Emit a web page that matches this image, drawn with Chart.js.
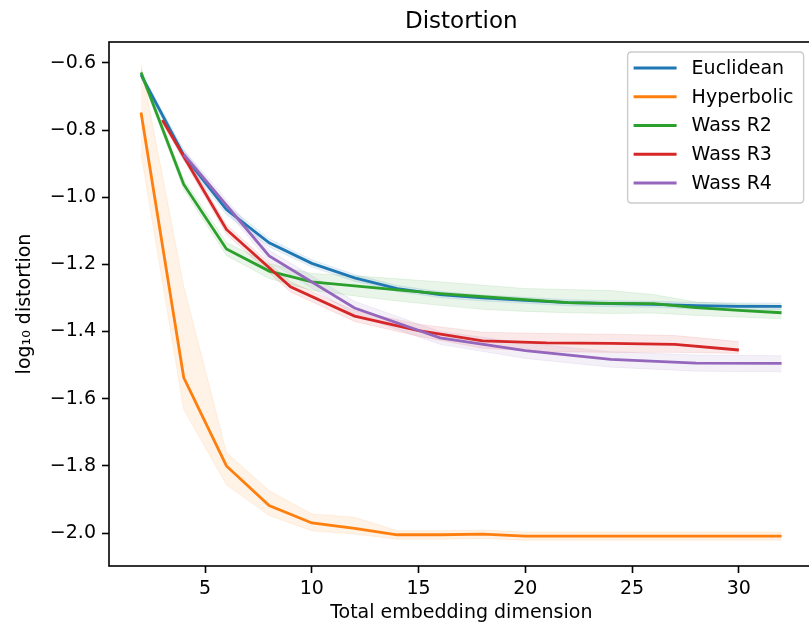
<!DOCTYPE html>
<html><head><meta charset="utf-8">
<script src="https://cdn.jsdelivr.net/npm/chart.js@4/dist/chart.umd.min.js"></script>
<style>
html,body{margin:0;padding:0;background:#fff;overflow:hidden;width:809px;height:629px}
#wrap{position:absolute;left:0;top:0;width:830px;height:629px}
</style>
</head><body><div id="wrap"><canvas id="c" width="830" height="629"></canvas></div>
<script>
// ---- data ----
const xEven = [2,4,6,8,10,12,14,16,18,20,22,24,26,28,30,32];
const xR3 = [3,6,9,12,15,18,21,24,27,30];
const xR4 = [4,8,12,16,20,24,28,32];

const euclMean  = [-0.636,-0.875,-1.037,-1.136,-1.197,-1.240,-1.272,-1.290,-1.300,-1.307,-1.314,-1.317,-1.319,-1.323,-1.325,-1.325];
const euclUpper = [-0.626,-0.860,-1.022,-1.124,-1.186,-1.230,-1.263,-1.281,-1.291,-1.298,-1.305,-1.308,-1.310,-1.313,-1.315,-1.315];
const euclLower = [-0.646,-0.890,-1.052,-1.148,-1.208,-1.250,-1.281,-1.299,-1.309,-1.316,-1.323,-1.326,-1.328,-1.333,-1.335,-1.335];

const hypMean  = [-0.748,-1.537,-1.800,-1.918,-1.970,-1.986,-2.005,-2.005,-2.003,-2.009,-2.009,-2.009,-2.009,-2.009,-2.009,-2.009];
const hypUpper = [-0.606,-1.266,-1.760,-1.874,-1.943,-1.953,-1.993,-1.993,-1.991,-1.997,-1.997,-1.997,-1.997,-1.997,-1.997,-1.997];
const hypLower = [-0.870,-1.632,-1.856,-1.948,-1.993,-2.003,-2.018,-2.018,-2.016,-2.021,-2.021,-2.021,-2.021,-2.021,-2.021,-2.021];

const r2Mean  = [-0.629,-0.962,-1.154,-1.220,-1.252,-1.264,-1.276,-1.287,-1.296,-1.305,-1.314,-1.316,-1.317,-1.329,-1.337,-1.344];
const r2Upper = [-0.619,-0.947,-1.134,-1.198,-1.227,-1.234,-1.243,-1.252,-1.262,-1.272,-1.275,-1.278,-1.290,-1.312,-1.318,-1.322];
const r2Lower = [-0.639,-0.977,-1.174,-1.242,-1.277,-1.294,-1.309,-1.322,-1.334,-1.340,-1.344,-1.346,-1.345,-1.352,-1.357,-1.362];

const r3Mean  = [-0.770,-1.096,-1.267,-1.354,-1.397,-1.428,-1.434,-1.435,-1.438,-1.455];
const r3Upper = [-0.760,-1.082,-1.252,-1.338,-1.378,-1.402,-1.406,-1.408,-1.412,-1.430];
const r3Lower = [-0.780,-1.110,-1.282,-1.370,-1.414,-1.450,-1.460,-1.462,-1.462,-1.465];

const r4Mean  = [-0.873,-1.175,-1.330,-1.419,-1.457,-1.483,-1.494,-1.495];
const r4Upper = [-0.858,-1.158,-1.310,-1.400,-1.434,-1.460,-1.470,-1.472];
const r4Lower = [-0.888,-1.192,-1.350,-1.438,-1.480,-1.506,-1.518,-1.520];

const seriesNames = ['Euclidean','Hyperbolic','Wass R2','Wass R3','Wass R4'];
const xTicks = [5,10,15,20,25,30];
const xTickLabels = ['5','10','15','20','25','30'];
const yTicks = [-2.0,-1.8,-1.6,-1.4,-1.2,-1.0,-0.8,-0.6];
const yTickLabels = ['\u22122.0','\u22121.8','\u22121.6','\u22121.4','\u22121.2','\u22121.0','\u22120.8','\u22120.6'];

// ---- build ----
const colors = ['31,119,180','255,127,14','44,160,44','214,39,40','148,103,189'];
const series = [
  {x:xEven, m:euclMean, u:euclUpper, l:euclLower},
  {x:xEven, m:hypMean, u:hypUpper, l:hypLower},
  {x:xEven, m:r2Mean, u:r2Upper, l:r2Lower},
  {x:xR3, m:r3Mean, u:r3Upper, l:r3Lower},
  {x:xR4, m:r4Mean, u:r4Upper, l:r4Lower}
];
const pts = (xs, ys) => xs.map((x,i)=>({x:x, y:ys[i]}));
const datasets = [];
series.forEach((s,k)=>{
  const c = colors[k];
  datasets.push({label:'', data:pts(s.x,s.u), borderColor:`rgba(${c},0.1)`, borderWidth:1, pointRadius:0, fill:false, order:20});
  datasets.push({label:'', data:pts(s.x,s.l), borderColor:`rgba(${c},0.1)`, borderWidth:1, pointRadius:0, fill:'-1', backgroundColor:`rgba(${c},0.1)`, order:20});
});
series.forEach((s,k)=>{
  datasets.push({label:seriesNames[k], isMain:true, data:pts(s.x,s.m), borderColor:`rgb(${colors[k]})`, borderWidth:2.8, pointRadius:0, fill:false, order:10-k});
});

const FONT = 'DejaVu Sans';
Chart.defaults.font.family = FONT;
Chart.defaults.color = '#000';

const framePlugin = {
  id:'frame',
  afterDatasetsDraw(chart){
    const {ctx, chartArea:a} = chart;
    ctx.save();
    ctx.strokeStyle = '#000'; ctx.lineWidth = 1.6;
    ctx.strokeRect(a.left, a.top, a.right-a.left, a.bottom-a.top);
    ctx.restore();
  }
};
const legendPlugin = {
  id:'boxLegend',
  afterDraw(chart){
    const {ctx, chartArea:a} = chart;
    const items = chart.data.datasets.filter(d=>d.isMain);
    const w = 176, h = 151;
    const x0 = a.right - 10 - w, y0 = a.top + 10, r = 4;
    ctx.save();
    ctx.beginPath();
    ctx.moveTo(x0+r,y0); ctx.lineTo(x0+w-r,y0); ctx.quadraticCurveTo(x0+w,y0,x0+w,y0+r);
    ctx.lineTo(x0+w,y0+h-r); ctx.quadraticCurveTo(x0+w,y0+h,x0+w-r,y0+h);
    ctx.lineTo(x0+r,y0+h); ctx.quadraticCurveTo(x0,y0+h,x0,y0+h-r);
    ctx.lineTo(x0,y0+r); ctx.quadraticCurveTo(x0,y0,x0+r,y0); ctx.closePath();
    ctx.fillStyle = 'rgba(255,255,255,0.8)'; ctx.fill();
    ctx.strokeStyle = '#cccccc'; ctx.lineWidth = 1.4; ctx.stroke();
    ctx.font = `19px "${FONT}"`; ctx.textBaseline = 'middle'; ctx.textAlign = 'left'; ctx.fillStyle = '#000';
    items.forEach((d,i)=>{
      const y = y0 + 16 + i*28.75;
      ctx.beginPath(); ctx.moveTo(x0+6,y); ctx.lineTo(x0+49,y);
      ctx.strokeStyle = d.borderColor; ctx.lineWidth = 2.8; ctx.stroke();
      ctx.fillText(d.label, x0+64, y+1);
    });
    ctx.restore();
  }
};

new Chart(document.getElementById('c'), {
  type:'line',
  data:{datasets},
  plugins:[framePlugin, legendPlugin],
  options:{
    responsive:false, animation:false, events:[],
    layout:{padding:{left:0,right:16.4,top:0,bottom:0}},
    elements:{line:{tension:0}},
    plugins:{
      legend:{display:false}, tooltip:{enabled:false},
      title:{display:true, text:'Distortion', fullSize:false, color:'#000',
        font:{size:23, weight:'normal', family:FONT}, padding:{top:8,bottom:6.4}}
    },
    scales:{
      x:{type:'linear', min:0.5, max:33.5,
        afterBuildTicks:s=>{ s.ticks = xTicks.map(v=>({value:v})); },
        afterFit:s=>{ s.height = 63; },
        border:{display:false},
        grid:{drawOnChartArea:false, drawTicks:true, tickLength:7, tickWidth:1.6, tickColor:'#000', color:'#000'},
        ticks:{font:{size:19}, padding:5, color:'#000', maxRotation:0, autoSkip:false,
          callback:(v,i)=>xTickLabels[i]},
        title:{display:true, text:'Total embedding dimension', font:{size:19}, color:'#000', padding:{top:0,bottom:5}}
      },
      y:{type:'linear', min:-2.098, max:-0.538,
        afterBuildTicks:s=>{ s.ticks = yTicks.map(v=>({value:v})); },
        afterFit:s=>{ s.width = 109; },
        border:{display:false},
        grid:{drawOnChartArea:false, drawTicks:true, tickLength:7, tickWidth:1.6, tickColor:'#000', color:'#000'},
        ticks:{font:{size:19}, padding:6, color:'#000', autoSkip:false,
          callback:(v,i)=>yTickLabels[i]},
        title:{display:true, text:'log\u2081\u2080 distortion', font:{size:19}, color:'#000', padding:{top:14,bottom:0}}
      }
    }
  }
});
</script></body></html>
